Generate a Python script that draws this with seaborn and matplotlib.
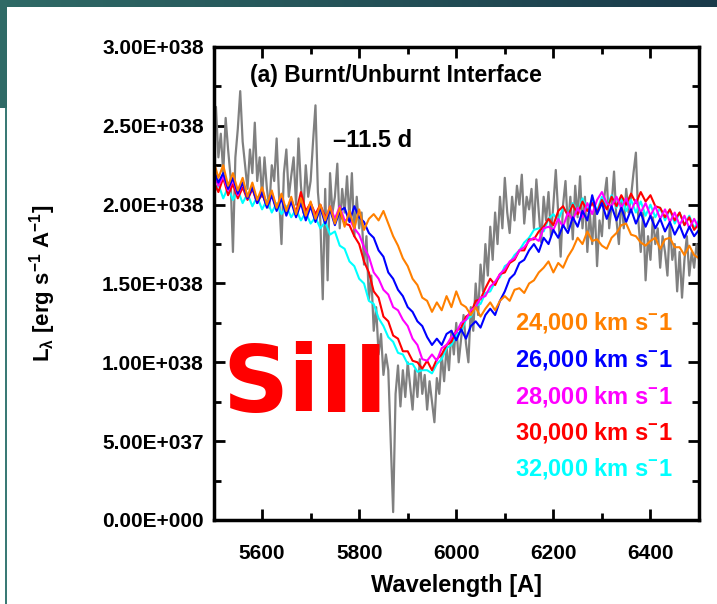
import numpy as np
import pandas as pd
import seaborn as sns
import matplotlib.pyplot as plt
from matplotlib.patches import Rectangle
from matplotlib.colors import LinearSegmentedColormap
from matplotlib.ticker import MultipleLocator, FuncFormatter

# wavelength grids [A]
wave_obs = np.arange(5500, 6501, 5)
wave_mod = np.arange(5500, 6501, 10)

# observed spectrum, units of 1e38 erg/s/A
obs = [2.38, 2.62, 2.30, 2.45, 2.20, 2.55, 2.35, 2.18, 1.70, 2.30, 2.48, 2.72, 2.40, 2.25, 2.10, 2.35, 2.20, 2.52, 2.15, 2.30, 2.05,
       2.30, 2.10, 1.98, 2.25, 2.15, 2.42, 2.05, 1.75, 2.20, 2.35, 2.05, 2.18, 2.30, 2.00, 2.42, 2.12, 1.95, 2.25, 2.05, 2.15,
       2.40, 2.63, 2.08, 1.90, 1.40, 2.10, 1.52, 2.20, 1.95, 2.05, 2.26, 1.85, 2.10, 1.95, 2.18, 1.90, 2.20, 1.80, 2.05, 1.85,
       1.95, 1.62, 1.80, 1.40, 1.55, 1.20, 1.35, 1.05, 1.18, 0.92, 1.05, 0.95, 0.50, 0.05, 0.80, 0.98, 0.72, 0.95, 0.78, 1.00,
       0.85, 0.70, 0.95, 0.78, 1.02, 0.80, 0.92, 0.70, 0.88, 0.75, 0.62, 0.90, 0.80, 1.05, 0.88, 1.10, 0.95, 1.20, 1.05, 1.25,
       1.00, 1.15, 1.30, 1.12, 1.00, 1.35, 1.20, 1.50, 1.30, 1.62, 1.45, 1.75, 1.55, 1.86, 1.65, 1.95, 1.75, 2.05, 1.85, 2.17,
       1.95, 1.82, 2.05, 1.90, 2.12, 2.00, 2.19, 1.88, 2.05, 1.97, 2.10, 1.85, 2.16, 1.95, 1.76, 2.05, 1.90, 2.08, 1.80, 2.00,
       2.22, 1.95, 1.67, 2.00, 2.15, 1.85, 2.05, 1.78, 2.12, 1.92, 2.18, 1.85, 2.05, 1.70, 1.95, 1.75, 2.00, 1.61, 1.90, 1.80,
       2.05, 2.17, 1.85, 2.00, 2.21, 1.90, 1.75, 2.05, 1.85, 2.10, 1.95, 2.05, 2.20, 2.33, 1.90, 1.70, 1.95, 1.52, 1.80, 1.65,
       1.92, 1.75, 1.85, 1.60, 1.80, 1.70, 1.55, 1.88, 1.65, 1.75, 1.45, 1.70, 1.41, 1.65, 1.80, 1.55, 1.70, 1.60, 1.75, 1.65]

# model spectra for the different interface velocities
v24 = [2.28, 2.17, 2.25, 2.12, 2.20, 2.09, 2.17, 2.05, 2.14, 2.03, 2.11, 2.00, 2.09, 1.98, 2.07, 1.96, 2.05, 1.94, 2.04, 1.93,
       2.02, 1.91, 2.00, 1.90, 1.99, 1.88, 1.98, 1.86, 1.96, 1.85, 1.97, 1.84, 1.91, 1.94, 1.90, 1.96, 1.88, 1.80, 1.74, 1.66,
       1.61, 1.53, 1.49, 1.41, 1.39, 1.32, 1.38, 1.33, 1.42, 1.35, 1.45, 1.37, 1.35, 1.30, 1.35, 1.29, 1.34, 1.38, 1.33, 1.39,
       1.42, 1.39, 1.46, 1.47, 1.44, 1.50, 1.52, 1.57, 1.60, 1.64, 1.57, 1.63, 1.60, 1.67, 1.72, 1.79, 1.75, 1.83, 1.77, 1.78,
       1.74, 1.72, 1.79, 1.82, 1.87, 1.88, 1.81, 1.80, 1.76, 1.74, 1.77, 1.79, 1.72, 1.78, 1.79, 1.73, 1.73, 1.68, 1.74, 1.68,
       1.66]
v26 = [2.23, 2.14, 2.20, 2.10, 2.17, 2.07, 2.14, 2.04, 2.11, 2.01, 2.08, 1.98, 2.06, 1.96, 2.04, 1.93, 2.02, 1.92, 2.01, 1.90,
       1.99, 1.89, 1.98, 1.88, 1.97, 1.87, 1.96, 1.98, 1.89, 1.99, 1.92, 1.89, 1.82, 1.79, 1.71, 1.67, 1.57, 1.53, 1.46, 1.42,
       1.35, 1.32, 1.26, 1.23, 1.16, 1.11, 1.15, 1.11, 1.18, 1.20, 1.14, 1.21, 1.15, 1.23, 1.26, 1.22, 1.30, 1.34, 1.30, 1.39,
       1.45, 1.53, 1.56, 1.63, 1.65, 1.71, 1.75, 1.70, 1.79, 1.75, 1.84, 1.79, 1.87, 1.82, 1.92, 1.86, 1.96, 1.90, 2.06, 1.94,
       2.01, 1.91, 1.99, 1.90, 1.98, 1.89, 1.97, 1.88, 1.95, 1.86, 1.93, 1.85, 1.91, 1.83, 1.89, 1.81, 1.87, 1.79, 1.86, 1.80,
       1.84]
v28 = [2.20, 2.12, 2.18, 2.09, 2.16, 2.06, 2.14, 2.04, 2.12, 2.01, 2.10, 1.99, 2.08, 1.97, 2.06, 1.95, 2.04, 1.94, 2.02, 1.92,
       2.01, 1.91, 1.99, 1.90, 1.99, 1.91, 1.99, 1.90, 1.91, 1.85, 1.81, 1.73, 1.67, 1.57, 1.53, 1.46, 1.43, 1.35, 1.33, 1.27,
       1.23, 1.15, 1.11, 1.02, 1.01, 1.05, 1.01, 1.09, 1.11, 1.16, 1.19, 1.25, 1.27, 1.33, 1.35, 1.41, 1.42, 1.48, 1.51, 1.56,
       1.59, 1.64, 1.66, 1.71, 1.73, 1.77, 1.79, 1.77, 1.85, 1.86, 1.84, 1.91, 1.86, 1.95, 1.90, 1.98, 1.92, 2.01, 1.94, 2.03,
       2.08, 2.01, 1.99, 2.05, 1.98, 2.04, 1.96, 2.03, 1.95, 2.01, 1.93, 1.99, 1.91, 1.97, 1.89, 1.95, 1.87, 1.93, 1.85, 1.91,
       1.85]
v30 = [2.15, 2.08, 2.17, 2.06, 2.13, 2.04, 2.11, 2.03, 2.10, 2.01, 2.07, 1.99, 2.06, 1.98, 2.04, 1.96, 2.03, 1.95, 2.08, 1.96,
       2.01, 1.94, 2.00, 1.92, 1.97, 1.90, 1.95, 1.88, 1.87, 1.80, 1.75, 1.64, 1.57, 1.45, 1.41, 1.29, 1.26, 1.17, 1.15, 1.07,
       1.07, 1.01, 1.00, 0.96, 1.01, 0.95, 1.02, 1.05, 1.11, 1.13, 1.20, 1.22, 1.29, 1.31, 1.39, 1.40, 1.47, 1.53, 1.49, 1.56,
       1.57, 1.63, 1.65, 1.71, 1.71, 1.78, 1.78, 1.83, 1.86, 1.91, 1.87, 1.96, 1.99, 1.93, 2.00, 1.94, 2.02, 1.96, 2.01, 1.95,
       2.03, 1.97, 2.05, 1.99, 2.06, 2.00, 2.07, 2.01, 2.08, 2.02, 2.06, 1.99, 1.98, 1.92, 1.97, 1.90, 1.95, 1.87, 1.92, 1.84,
       1.88]
v32 = [2.07, 2.13, 2.04, 2.11, 2.03, 2.09, 2.01, 2.07, 1.99, 2.05, 1.97, 2.03, 1.95, 2.01, 1.94, 1.99, 1.92, 1.97, 1.90, 1.95,
       1.88, 1.92, 1.85, 1.89, 1.81, 1.83, 1.74, 1.72, 1.64, 1.61, 1.53, 1.50, 1.39, 1.37, 1.28, 1.23, 1.16, 1.13, 1.06, 1.05,
       0.99, 0.99, 0.94, 0.95, 0.95, 0.93, 0.99, 1.02, 1.09, 1.11, 1.17, 1.20, 1.27, 1.29, 1.36, 1.37, 1.44, 1.45, 1.51, 1.54,
       1.61, 1.63, 1.68, 1.71, 1.76, 1.79, 1.84, 1.85, 1.83, 1.91, 1.94, 1.90, 1.98, 1.94, 2.01, 1.95, 2.04, 1.97, 2.03, 1.96,
       2.05, 1.99, 2.06, 1.98, 2.04, 1.96, 2.03, 1.95, 2.02, 1.93, 2.00, 1.92, 1.98, 1.90, 1.97, 1.88, 1.95, 1.87, 1.93, 1.85,
       1.90]

labels = ['24,000 km s$^{-}$1', '26,000 km s$^{-}$1', '28,000 km s$^{-}$1', '30,000 km s$^{-}$1', '32,000 km s$^{-}$1']
colors = ['#ff8000', '#0000ff', '#ff00ff', '#ff0000', '#00ffff']
models = [v24, v26, v28, v30, v32]

sns.set_style("ticks")
plt.rcParams['font.family'] = ['Liberation Sans', 'DejaVu Sans']
plt.rcParams['font.weight'] = 'bold'
plt.rcParams['text.color'] = 'black'
plt.rcParams['axes.labelcolor'] = 'black'
plt.rcParams['xtick.color'] = 'black'
plt.rcParams['ytick.color'] = 'black'
plt.rcParams['mathtext.fontset'] = 'custom'
plt.rcParams['mathtext.rm'] = 'Liberation Sans:bold'
plt.rcParams['mathtext.it'] = 'Liberation Sans:bold'
plt.rcParams['mathtext.bf'] = 'Liberation Sans:bold'
plt.rcParams['mathtext.default'] = 'regular'

fig = plt.figure(figsize=(7.17, 6.04), dpi=100)
fig.patch.set_facecolor('white')
ax = fig.add_axes([0.2978, 0.1391, 0.6771, 0.7831])

df_obs = pd.DataFrame({'wave': wave_obs, 'flux': np.array(obs) * 1e38})
sns.lineplot(data=df_obs, x='wave', y='flux', color='#808080', lw=1.6, ax=ax, estimator=None)

# draw in reverse so orange ends on top
for vals, col in list(zip(models, colors))[::-1]:
    df = pd.DataFrame({'wave': wave_mod, 'flux': np.array(vals) * 1e38})
    sns.lineplot(data=df, x='wave', y='flux', color=col, lw=1.5, ax=ax, estimator=None)

ax.set_xlim(5500, 6500)
ax.set_ylim(0, 3e38)
ax.xaxis.set_major_locator(MultipleLocator(200))
ax.xaxis.set_minor_locator(MultipleLocator(100))
ax.yaxis.set_major_locator(MultipleLocator(0.5e38))
ax.yaxis.set_minor_locator(MultipleLocator(0.25e38))


def sci_fmt(v, pos):
    if v == 0:
        return '0.00E+000'
    e = int(np.floor(np.log10(abs(v)) + 1e-9))
    return f'{v / 10**e:.2f}E+{e:03d}'


ax.yaxis.set_major_formatter(FuncFormatter(sci_fmt))
ax.xaxis.set_major_formatter(FuncFormatter(lambda v, p: f'{v:.0f}'))
ax.tick_params(which='both', direction='in', top=True, right=True, width=2, labelsize=15,
               colors='black', labelcolor='black')
ax.tick_params(which='major', length=8)
ax.tick_params(which='minor', length=5)
ax.tick_params(axis='y', which='major', pad=7)
ax.tick_params(axis='x', which='major', pad=17)
for s in ax.spines.values():
    s.set_visible(True)
    s.set_linewidth(2.5)
    s.set_color('black')

ax.set_xlabel('Wavelength [A]', fontsize=17, fontweight='bold', labelpad=8, color='black')
ax.set_ylabel(r'L$_\lambda$ [erg s$^{-1}$ A$^{-1}$]', fontsize=16, fontweight='bold', labelpad=32, color='black')

ax.text(0.075, 0.939, '(a) Burnt/Unburnt Interface', transform=ax.transAxes, fontsize=16.5,
        fontweight='bold', va='center', ha='left', color='black')
ax.text(0.246, 0.803, '\u201311.5 d', transform=ax.transAxes, fontsize=17,
        fontweight='bold', va='center', ha='left', color='black')
ypos = [0.4165, 0.340, 0.262, 0.184, 0.108]
for lab, col, yy in zip(labels, colors, ypos):
    ax.text(0.621, yy, lab, transform=ax.transAxes, fontsize=17, fontweight='bold',
            color=col, va='center', ha='left')
ax.text(0.0175, 0.228, 'SiII', transform=ax.transAxes, fontsize=66, fontweight='bold',
        color='#ff0000', va='baseline', ha='left', family=['DejaVu Sans'])

# slide frame
bar = fig.add_axes([0, 1 - 7 / 604, 1, 7 / 604])
grad = np.linspace(0, 1, 256).reshape(1, -1)
cm = LinearSegmentedColormap.from_list('frame', ['#2f6a66', '#1a3a4a'])
bar.imshow(grad, aspect='auto', cmap=cm, extent=[0, 1, 0, 1])
bar.axis('off')
fig.add_artist(Rectangle((0, 1 - 108 / 604), 7 / 717, 108 / 604, transform=fig.transFigure,
                         color='#2f6a66', lw=0))
fig.add_artist(Rectangle((5 / 717, 0), 2 / 717, 1 - 108 / 604, transform=fig.transFigure,
                         color='#3a7a75', lw=0))

fig.savefig('out.png', dpi=100)
